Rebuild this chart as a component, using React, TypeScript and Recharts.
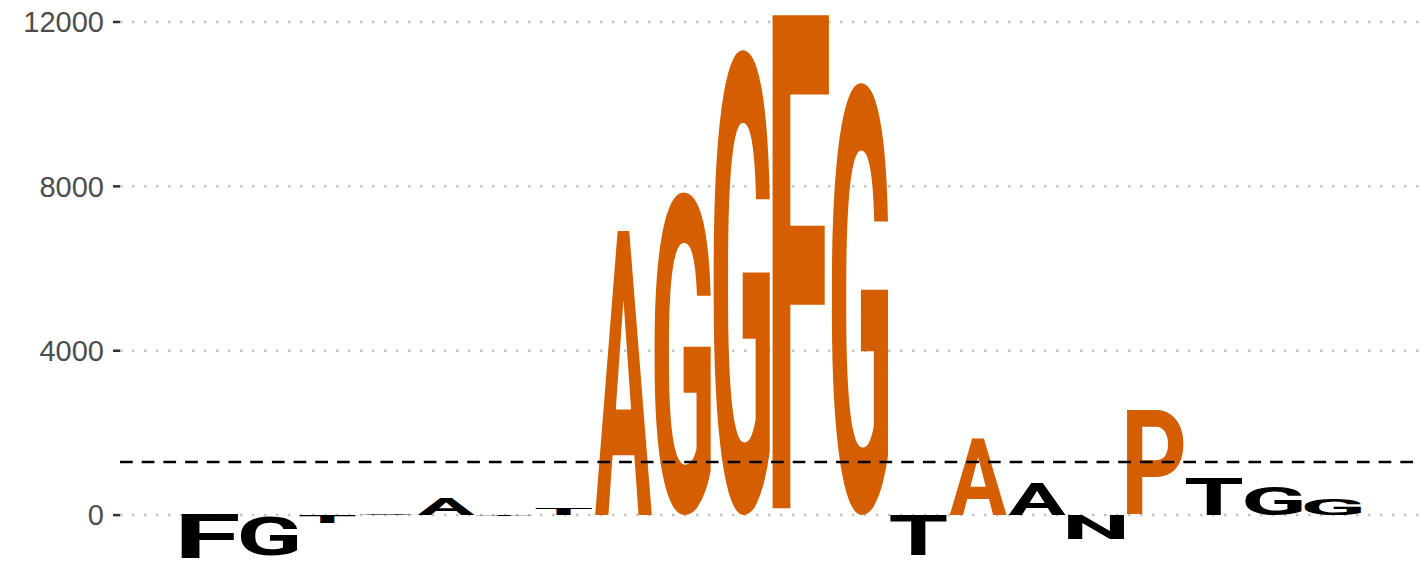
import React from "react";
import {
  BarChart,
  Bar,
  XAxis,
  YAxis,
  CartesianGrid,
  ReferenceLine,
} from "recharts";

// sequence logo: one letter per position, height = score
const positions = [1, 2, 3, 4, 5, 6, 7, 8, 9, 10, 11, 12, 13, 14, 15, 16, 17, 18, 19, 20];
const letters = ["F", "G", "T", "A", "A", "T", "T", "A", "G", "G", "F", "G", "T", "A", "A", "N", "P", "T", "G", "G"];
const scores = [-1060, -975, -200, 20, 430, -20, 150, 7000, 7950, 11450, 12150, 10640, -975, 1900, 780, -590, 2580, 900, 700, 390];
const cutoff = 1290;
const yTicks = [0, 4000, 8000, 12000];

const ORANGE = "#D55E00";
const FONT = '"Liberation Sans", Arial, sans-serif';
const LOGO_FONT = 'Roboto, "Liberation Sans", sans-serif';

const data = positions.map((p, i) => ({
  pos: p,
  letter: letters[i],
  score: scores[i],
}));

const boxCache: Record<string, { l: number; r: number; a: number; d: number }> = {};

function glyphBox(ch: string) {
  if (boxCache[ch]) return boxCache[ch];
  const canvas = document.createElement("canvas");
  const ctx = canvas.getContext("2d")!;
  ctx.font = `bold 100px ${LOGO_FONT}`;
  const m = ctx.measureText(ch);
  const box = {
    l: m.actualBoundingBoxLeft,
    r: m.actualBoundingBoxRight,
    a: m.actualBoundingBoxAscent,
    d: m.actualBoundingBoxDescent,
  };
  boxCache[ch] = box;
  return box;
}

function Letter(props: any) {
  const { x, y, width, height, payload } = props;
  if (!payload || !width || !height) return null;
  const top = Math.min(y, y + height);
  const h = Math.abs(height);
  const box = glyphBox(payload.letter);
  const sx = width / (box.l + box.r);
  const sy = h / (box.a + box.d);
  const fill = payload.score > cutoff ? ORANGE : "#000000";
  return (
    <text
      transform={`translate(${x + box.l * sx},${top + box.a * sy}) scale(${sx},${sy})`}
      x={0}
      y={0}
      fontSize={100}
      fontWeight="bold"
      fontFamily={LOGO_FONT}
      fill={fill}
    >
      {payload.letter}
    </text>
  );
}

export default function App() {
  return (
    <div style={{ position: "absolute", left: 0, top: 0 }}>
      <BarChart
        width={1420}
        height={564}
        data={data}
        margin={{ top: 0, right: 0, bottom: 0, left: 0 }}
        barCategoryGap="2%"
      >
        <CartesianGrid
          vertical={false}
          horizontalValues={yTicks}
          stroke="#c4c4c4"
          strokeWidth={2.5}
          strokeDasharray="2.5 9.5"
        />
        <XAxis dataKey="pos" hide padding={{ left: 60, right: 58 }} />
        <YAxis
          width={120}
          domain={[-1190, 12535]}
          ticks={yTicks}
          allowDataOverflow
          axisLine={false}
          tickSize={7}
          tickMargin={9}
          tickLine={{ stroke: "#333333", strokeWidth: 2.5 }}
          tick={{ fill: "#4d4d4d", fontSize: 29, fontFamily: FONT }}
        />
        <ReferenceLine
          y={cutoff}
          stroke="#000000"
          strokeWidth={2.5}
          strokeDasharray="12.7 9"
        />
        <Bar dataKey="score" shape={<Letter />} isAnimationActive={false} />
      </BarChart>
    </div>
  );
}
